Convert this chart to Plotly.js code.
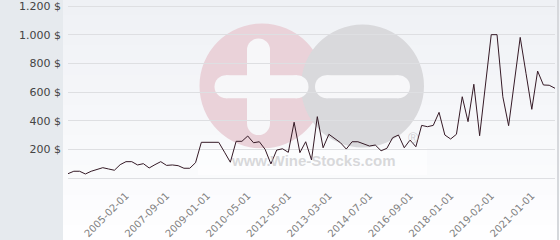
<!DOCTYPE html>
<html>
<head>
<meta charset="utf-8">
<script src="https://cdn.plot.ly/plotly-3.0.1.min.js"></script>
<style>html,body{margin:0;padding:0;background:#fff;}#chart{width:560px;height:240px;}</style>
</head>
<body>
<div id="chart"></div>
<script>
// ---- data ----
const prices = [30,47,47,28,47,58,72,63,54,93,
  114,114,91,100,70,93,114,88,91,86,
  68,68,107,249,249,249,249,180,110,256,
  256,293,246,253,200,98,195,204,179,389,
  177,253,126,428,211,305,277,246,202,253,
  253,237,223,230,190,207,281,300,211,265,
  218,367,358,367,458,300,272,305,567,393,
  654,295,650,1000,1000,567,365,673,981,730,
  479,746,649,647,626];
const pointIndex = prices.map((_, i) => i);
const tickPositions = [10,17,24,31,38,45,52,59,66,73,80];
const tickLabels = ['2005-02-01','2007-09-01','2009-01-01','2010-05-01','2012-05-01','2013-03-01','2014-07-01','2016-09-01','2018-01-01','2019-02-01','2021-01-01'];
const yTickValues = [0,200,400,600,800,1000,1200];
const yTickLabels = ['','200 $','400 $','600 $','800 $','1.000 $','1.200 $'];

// ---- geometry helpers (pixel -> paper) ----
const L = 68, R = 555, T = 3, B = 180;       // plot area in px
const Z = 178, TOPV = 6;                      // px of value 0 and 1200
const pxPer = (Z - TOPV) / 1200;
const yMin = -(B - Z) / pxPer, yMax = 1200 + (TOPV - T) / pxPer;
const X = px => (px - L) / (R - L);
const Y = py => (B - py) / (B - T);
const rect = (x0, y0, x1, y1, c) => ({type:'rect', xref:'paper', yref:'paper', layer:'below',
  x0:X(x0), x1:X(x1), y0:Y(y1), y1:Y(y0), fillcolor:c, line:{width:0}});
const circ = (cx, cy, r, c) => ({type:'circle', xref:'paper', yref:'paper', layer:'below',
  x0:X(cx-r), x1:X(cx+r), y0:Y(cy+r), y1:Y(cy-r), fillcolor:c, line:{width:0}});
const hbar = (x0, x1, yc, h, c) => [rect(x0, yc-h/2, x1, yc+h/2, c), circ(x0, yc, h/2, c), circ(x1, yc, h/2, c)];
const vbar = (xc, y0, y1, w, c) => [rect(xc-w/2, y0, xc+w/2, y1, c), circ(xc, y0, w/2, c), circ(xc, y1, w/2, c)];

const shapes = [];
// gradient background (bands)
const nb = 16;
for (let i = 0; i < nb; i++) {
  const t = i / (nb - 1);
  const r = Math.round(239 + (254 - 239) * t), g = Math.round(241 + (254 - 241) * t), b = Math.round(245 + (255 - 245) * t);
  shapes.push(rect(63, i * 240 / nb, 560, (i + 1) * 240 / nb + 0.5, `rgb(${r},${g},${b})`));
}
shapes.push(rect(0, 0, 63, 240, '#e6eaee'));
shapes.push(rect(557, 0, 559, 240, '#d6d8dc'));
// watermark logo
const barC = '#f7f7f9';
shapes.push(circ(262, 86, 62.5, '#ead2d9'));
shapes.push(circ(362.5, 86, 61.5, '#d9d9dc'));
shapes.push(...hbar(226, 297, 86.7, 23, barC));
shapes.push(...vbar(258.5, 50, 123.5, 23, barC));
shapes.push(...hbar(326.5, 398.5, 86.7, 23, barC));
shapes.push(rect(198, 148, 427, 175, 'rgba(255,255,255,0.55)'));

const trace = {
  x: pointIndex, y: prices, type: 'scatter', mode: 'lines',
  line: {color: '#351a26', width: 1}, hoverinfo: 'skip'
};

const layout = {
  width: 560, height: 240,
  margin: {l: L, r: 560 - R, t: T, b: 240 - B},
  paper_bgcolor: '#ffffff', plot_bgcolor: 'rgba(0,0,0,0)',
  showlegend: false,
  font: {family: 'DejaVu Sans', size: 11, color: '#444'},
  xaxis: {
    range: [0, prices.length - 1], tickmode: 'array', tickvals: tickPositions, ticktext: tickLabels,
    tickangle: -45, showgrid: false, zeroline: false, showline: false, ticks: '',
    tickfont: {family: 'DejaVu Sans', size: 10, color: '#808080'}, ticklabelstandoff: 7,
    ticklabeloverflow: 'allow'
  },
  yaxis: {
    range: [yMin, yMax], tickmode: 'array', tickvals: yTickValues, ticktext: yTickLabels,
    showgrid: true, gridcolor: '#dedfe2', gridwidth: 1, zeroline: false, showline: false, ticks: '',
    tickfont: {family: 'DejaVu Sans', size: 11, color: '#444'}, ticklabelstandoff: 6,
    ticklabeloverflow: 'allow'
  },
  shapes: shapes,
  annotations: [
    {xref: 'paper', yref: 'paper', x: X(313), y: Y(160.5), text: '<b>www.Wine-Stocks.com</b>', showarrow: false,
     font: {family: 'Liberation Sans', size: 15, color: 'rgba(185,185,188,0.55)'}, xanchor: 'center', yanchor: 'middle'},
    {xref: 'paper', yref: 'paper', x: X(413), y: Y(138), text: '®', showarrow: false,
     font: {family: 'Liberation Sans', size: 14, color: 'rgba(180,180,185,0.6)'}, xanchor: 'center', yanchor: 'middle'}
  ]
};

Plotly.newPlot('chart', [trace], layout, {staticPlot: true, displayModeBar: false});
</script>
</body>
</html>
